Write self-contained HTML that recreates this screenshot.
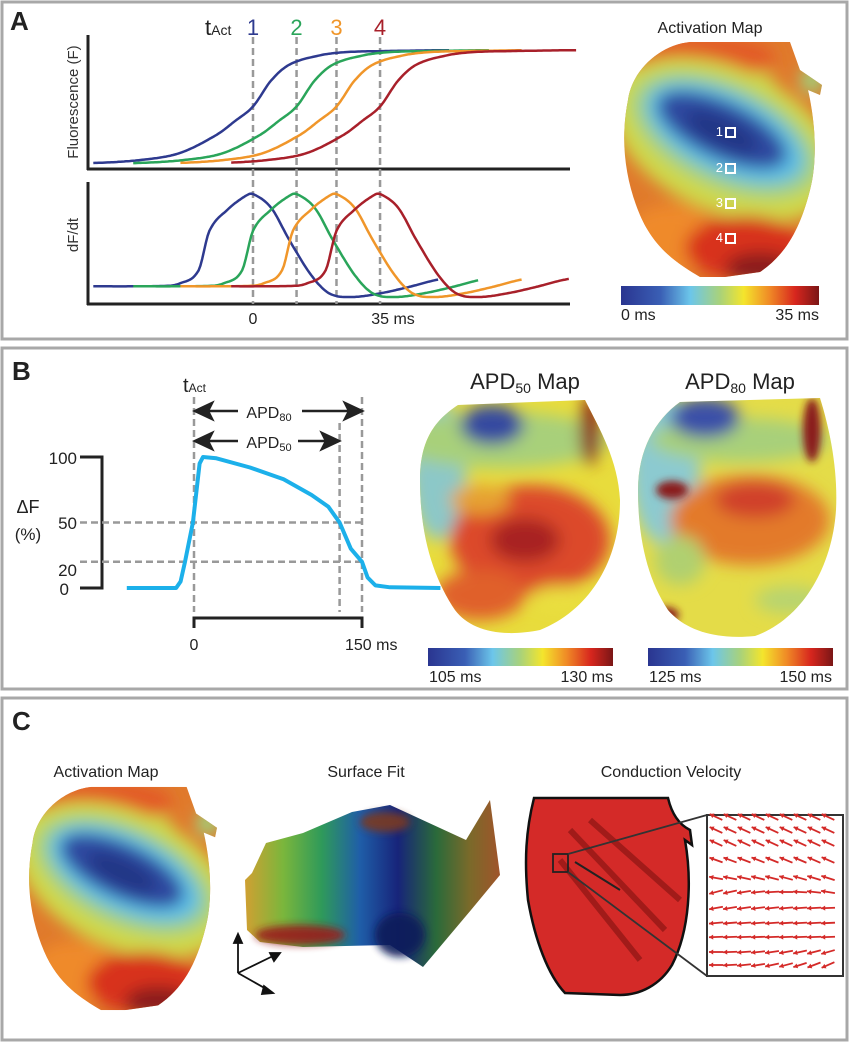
<!DOCTYPE html>
<html><head><meta charset="utf-8">
<style>
html,body{margin:0;padding:0;background:#fff;}
svg{display:block;font-family:"Liberation Sans",Arial,sans-serif;}
</style></head>
<body>
<svg id="fig" width="850" height="1043" viewBox="0 0 850 1043" xmlns="http://www.w3.org/2000/svg">
<defs>
<filter id="bl" x="-50%" y="-50%" width="200%" height="200%"><feGaussianBlur stdDeviation="8"/></filter>
<filter id="bl2" x="-50%" y="-50%" width="200%" height="200%"><feGaussianBlur stdDeviation="4"/></filter>
<linearGradient id="jet" x1="0" x2="1" y1="0" y2="0">
<stop offset="0" stop-color="#2a3590"/><stop offset="0.2" stop-color="#3a5fb5"/><stop offset="0.35" stop-color="#6cc6ea"/>
<stop offset="0.5" stop-color="#a9d27a"/><stop offset="0.62" stop-color="#f4e52c"/><stop offset="0.75" stop-color="#f08a26"/>
<stop offset="0.88" stop-color="#d7261e"/><stop offset="1" stop-color="#7a1616"/></linearGradient>
<linearGradient id="surf" x1="0" x2="1" y1="0" y2="0">
<stop offset="0" stop-color="#d0a032"/><stop offset="0.15" stop-color="#7ab63c"/><stop offset="0.3" stop-color="#2f9a5a"/>
<stop offset="0.45" stop-color="#1f5ea8"/><stop offset="0.6" stop-color="#17247a"/><stop offset="0.75" stop-color="#2a6a3a"/>
<stop offset="0.88" stop-color="#7a6a2a"/><stop offset="1" stop-color="#a0542a"/></linearGradient>
<clipPath id="heartA"><path d="M628,100 C632,70 660,45 690,42 L790,42 L800,70 L822,85 L820,95 L808,90 C815,120 818,160 810,190 C800,230 785,255 760,272 L725,277 L700,277 C680,265 655,250 640,215 C625,180 620,140 628,100 Z"/></clipPath>
<clipPath id="apd50clip"><path d="M458,405 L585,400 C600,430 618,460 620,500 C620,560 590,610 540,630 C500,638 470,630 455,610 C435,580 420,540 420,480 C420,440 435,420 458,405 Z"/></clipPath>
<clipPath id="apd80clip"><path d="M680,402 L820,398 C830,430 838,470 836,510 C832,570 800,620 755,636 C715,640 685,630 668,610 C648,580 638,540 638,490 C638,450 655,420 680,402 Z"/></clipPath>
</defs>

<rect x="2" y="2" width="845" height="337" fill="none" stroke="#a8a8a8" stroke-width="3"/>
<rect x="2" y="348" width="845" height="341" fill="none" stroke="#a8a8a8" stroke-width="3"/>
<rect x="2" y="698" width="845" height="342" fill="none" stroke="#a8a8a8" stroke-width="3"/>
<text x="10" y="30" font-size="26" font-weight="bold" fill="#222">A</text>
<text x="12" y="380" font-size="26" font-weight="bold" fill="#222">B</text>
<text x="12" y="730" font-size="26" font-weight="bold" fill="#222">C</text>

<g id="panelA">
<line x1="88" y1="35" x2="88" y2="170" stroke="#222" stroke-width="3"/>
<line x1="87" y1="169" x2="570" y2="169" stroke="#222" stroke-width="3"/>
<line x1="88" y1="182" x2="88" y2="305" stroke="#222" stroke-width="3"/>
<line x1="87" y1="304" x2="570" y2="304" stroke="#222" stroke-width="3"/>
<text transform="translate(78,102) rotate(-90)" text-anchor="middle" font-size="15" fill="#333">Fluorescence (F)</text>
<text transform="translate(78,235) rotate(-90)" text-anchor="middle" font-size="15" fill="#333">dF/dt</text>
<text x="205" y="35" font-size="22" fill="#222">t<tspan font-size="14">Act</tspan></text>
<g id="dashA"></g>
<g id="curvesA"></g>
<text x="253" y="324" text-anchor="middle" font-size="16" fill="#222">0</text>
<text x="393" y="324" text-anchor="middle" font-size="16" fill="#222">35 ms</text>
</g>

<text x="710" y="33" text-anchor="middle" font-size="16" fill="#222">Activation Map</text>
<g clip-path="url(#heartA)">
<g id="actA">
<rect x="615" y="35" width="215" height="250" fill="#e07a2c"/>
<g filter="url(#bl)">
<ellipse cx="690" cy="95" rx="90" ry="40" fill="#c8d44c"/>
<ellipse cx="700" cy="58" rx="75" ry="22" fill="#e35a28"/>
<ellipse cx="725" cy="140" rx="120" ry="72" transform="rotate(25 725 140)" fill="#cfd84a"/>
<ellipse cx="725" cy="135" rx="100" ry="52" transform="rotate(25 725 135)" fill="#9fd08a"/>
<ellipse cx="725" cy="133" rx="85" ry="40" transform="rotate(25 725 133)" fill="#5cbde6"/>
<ellipse cx="722" cy="130" rx="70" ry="28" transform="rotate(25 722 130)" fill="#2f4aa0"/>
<ellipse cx="722" cy="132" rx="40" ry="14" transform="rotate(25 722 132)" fill="#233485"/>
<ellipse cx="670" cy="240" rx="45" ry="35" fill="#ef8a2a"/>
<ellipse cx="745" cy="248" rx="60" ry="32" fill="#d8301f"/>
<ellipse cx="760" cy="268" rx="35" ry="16" fill="#8b1c1c"/>
<ellipse cx="812" cy="80" rx="12" ry="14" fill="#a0d07a"/>
</g></g></g>
<g id="squares"></g>
<rect x="621" y="286" width="198" height="19" fill="url(#jet)"/>
<text x="621" y="320" font-size="16" fill="#222">0 ms</text>
<text x="819" y="320" text-anchor="end" font-size="16" fill="#222">35 ms</text>

<g>
<polyline points="80,457 102,457 102,588 80,588" fill="none" stroke="#222" stroke-width="3"/>
<text x="77" y="464" text-anchor="end" font-size="17" fill="#222">100</text>
<text x="77" y="529" text-anchor="end" font-size="17" fill="#222">50</text>
<text x="77" y="576" text-anchor="end" font-size="17" fill="#222">20</text>
<text x="69" y="595" text-anchor="end" font-size="17" fill="#222">0</text>
<text x="28" y="513" text-anchor="middle" font-size="18" fill="#222">ΔF</text>
<text x="28" y="540" text-anchor="middle" font-size="17" fill="#222">(%)</text>
<g id="dashB" stroke="#999" stroke-width="2.5" stroke-dasharray="7,4" fill="none"></g>
<path id="apTrace" fill="none" stroke="#1cb0ea" stroke-width="4" stroke-linejoin="round"/>
<g stroke="#222" stroke-width="2.5" fill="#222">
<line x1="204" y1="411" x2="238" y2="411"/><line x1="302" y1="411" x2="352" y2="411"/>
<polygon points="195,411 212,403 208,411 212,419"/><polygon points="362,411 345,403 349,411 345,419"/>
<line x1="204" y1="441" x2="238" y2="441"/><line x1="298" y1="441" x2="330" y2="441"/>
<polygon points="195,441 212,433 208,441 212,449"/><polygon points="339,441 322,433 326,441 322,449"/>
</g>
<text x="269" y="418" text-anchor="middle" font-size="16" fill="#222">APD<tspan font-size="11" dy="3">80</tspan></text>
<text x="269" y="448" text-anchor="middle" font-size="16" fill="#222">APD<tspan font-size="11" dy="3">50</tspan></text>
<text x="183" y="392" font-size="20" fill="#222">t<tspan font-size="12">Act</tspan></text>
<polyline points="194,628 194,618 362,618 362,628" fill="none" stroke="#222" stroke-width="3"/>
<text x="194" y="650" text-anchor="middle" font-size="16" fill="#222">0</text>
<text x="345" y="650" font-size="16" fill="#222">150 ms</text>
</g>

<text x="525" y="389" text-anchor="middle" font-size="22" fill="#222">APD<tspan font-size="14" dy="4">50</tspan><tspan dy="-4"> Map</tspan></text>
<text x="740" y="389" text-anchor="middle" font-size="22" fill="#222">APD<tspan font-size="14" dy="4">80</tspan><tspan dy="-4"> Map</tspan></text>
<g clip-path="url(#apd50clip)">
<rect x="415" y="395" width="210" height="245" fill="#e8dc3c"/>
<g filter="url(#bl)">
<ellipse cx="438" cy="470" rx="28" ry="70" fill="#8cc8c8"/>
<ellipse cx="500" cy="440" rx="110" ry="28" fill="#a8d07a"/>
<ellipse cx="492" cy="425" rx="32" ry="20" fill="#3448a0"/>
<ellipse cx="530" cy="540" rx="80" ry="55" fill="#dc4a2a"/>
<ellipse cx="525" cy="540" rx="35" ry="22" fill="#a82020"/>
<ellipse cx="480" cy="595" rx="45" ry="25" fill="#e0602a"/>
<ellipse cx="590" cy="430" rx="10" ry="35" fill="#8a1818"/>
<ellipse cx="560" cy="598" rx="30" ry="12" fill="#eadf40"/>
<ellipse cx="480" cy="500" rx="30" ry="15" fill="#e6a030"/>
</g></g>
<g clip-path="url(#apd80clip)">
<rect x="635" y="395" width="205" height="245" fill="#e4dc48"/>
<g filter="url(#bl)">
<ellipse cx="665" cy="470" rx="35" ry="75" fill="#8ccad0"/>
<ellipse cx="740" cy="440" rx="90" ry="22" fill="#a8d07a"/>
<ellipse cx="705" cy="418" rx="35" ry="20" fill="#3a50a8"/>
<ellipse cx="750" cy="520" rx="80" ry="45" fill="#e37a2c"/>
<ellipse cx="755" cy="500" rx="40" ry="18" fill="#d0402a"/>
<ellipse cx="790" cy="600" rx="35" ry="14" fill="#b8d470"/>
<ellipse cx="680" cy="560" rx="25" ry="25" fill="#b0d070"/>
</g>
<g filter="url(#bl2)">
<ellipse cx="672" cy="490" rx="16" ry="9" fill="#8a1a1a"/>
<ellipse cx="812" cy="430" rx="9" ry="32" fill="#8a1a1a"/>
<ellipse cx="665" cy="615" rx="14" ry="8" fill="#8a1a1a"/>
</g></g>
<rect x="428" y="648" width="185" height="18" fill="url(#jet)"/>
<rect x="648" y="648" width="185" height="18" fill="url(#jet)"/>
<text x="429" y="682" font-size="16" fill="#222">105 ms</text>
<text x="613" y="682" text-anchor="end" font-size="16" fill="#222">130 ms</text>
<text x="649" y="682" font-size="16" fill="#222">125 ms</text>
<text x="832" y="682" text-anchor="end" font-size="16" fill="#222">150 ms</text>

<text x="106" y="777" text-anchor="middle" font-size="16" fill="#222">Activation Map</text>
<text x="366" y="777" text-anchor="middle" font-size="16" fill="#222">Surface Fit</text>
<text x="671" y="777" text-anchor="middle" font-size="16" fill="#222">Conduction Velocity</text>
<g transform="translate(27,785) scale(0.95,0.95) translate(-622,-40)" clip-path="url(#heartA)">
<use href="#actA"/>
</g>
<g>
<path d="M252,873 L266,843 L303,833 L352,812 L390,805 L466,840 L490,800 L500,875 L471,910 L423,967 L390,945 L303,947 L260,942 L247,930 L245,880 Z" fill="url(#surf)"/>
<g filter="url(#bl2)" opacity="0.9">
<ellipse cx="300" cy="935" rx="45" ry="10" fill="#9a1c1c"/>
<ellipse cx="385" cy="822" rx="25" ry="10" fill="#7a3a20"/>
<ellipse cx="400" cy="935" rx="25" ry="22" fill="#101c5a"/>
</g>
<g stroke="#111" stroke-width="1.8" fill="#111">
<line x1="238" y1="973" x2="238" y2="938"/><polygon points="238,934 234,943 242,943"/>
<line x1="238" y1="973" x2="275" y2="955"/><polygon points="280,953 270,953 274,961"/>
<line x1="238" y1="973" x2="268" y2="990"/><polygon points="273,993 264,986 262,994"/>
</g></g>
<g>
<path d="M534,798 L668,798 C672,815 680,825 690,830 L692,845 L685,840 C692,880 690,930 672,965 C660,985 640,995 620,995 L565,993 C548,975 535,940 528,900 C524,860 526,830 534,798 Z" fill="#d42a28" stroke="#111" stroke-width="2.5"/>
<g opacity="0.35" stroke="#400" stroke-width="6" fill="none">
<line x1="570" y1="830" x2="665" y2="930"/><line x1="590" y1="820" x2="680" y2="900"/><line x1="560" y1="860" x2="640" y2="960"/>
</g>
<line x1="575" y1="862" x2="620" y2="890" stroke="#222" stroke-width="2"/>
<rect x="553" y="854" width="15" height="18" fill="none" stroke="#222" stroke-width="1.8"/>
<line x1="568" y1="854" x2="707" y2="815" stroke="#333" stroke-width="1.8"/>
<line x1="568" y1="872" x2="707" y2="976" stroke="#333" stroke-width="1.8"/>
<rect x="707" y="815" width="136" height="161" fill="#fff" stroke="#333" stroke-width="2"/>
<g id="cvArrows"></g>
</g>
</svg>
<script>
// ---- Panel A data ----
var tAct = [0, 12, 23, 35];
var seriesColors = ['#2e3a8f', '#2aa55a', '#f0962a', '#a8202a'];
var siteLabels = ['1', '2', '3', '4'];
var startMs = [-44, -33, -20, -6];
var endF = [54, 65, 74, 89];
var endD = [51, 62, 74, 87];
var fOffsets = [-60, -44, -30, -20, -10, -5, 0, 5, 10, 18, 25, 35, 60, 90];
var fValues  = [0, 0, 0.03, 0.09, 0.25, 0.37, 0.5, 0.73, 0.87, 0.95, 0.98, 0.99, 1, 1];
var dOffsets = [-60, -25, -20, -15, -12, -7, -2, 0, 5, 10, 16, 21, 27, 35, 43, 51, 60];
var dValues  = [0, 0, 0.03, 0.17, 0.6, 0.83, 0.98, 1, 0.85, 0.5, 0.12, -0.08, -0.12, -0.08, -0.01, 0.07, 0.12];

function xA(t){ return 253 + t * 3.63; }
function yF(v){ return 163 - v * 113; }
function yD(v){ return 286 - v * 92; }
// Catmull-Rom (smooth) interpolation through read points
function interp(xs, ys, x){
  var n = xs.length;
  if (x <= xs[0]) return ys[0];
  if (x >= xs[n-1]) return ys[n-1];
  var i = 1; while (x > xs[i]) i++;
  var x1 = xs[i-1], x2 = xs[i], y1 = ys[i-1], y2 = ys[i];
  var y0 = i >= 2 ? ys[i-2] : y1, y3 = i + 1 < n ? ys[i+1] : y2;
  var x0 = i >= 2 ? xs[i-2] : x1 - 1, x3 = i + 1 < n ? xs[i+1] : x2 + 1;
  var h = x2 - x1, s = (x - x1) / h;
  var m1 = (y2 - y0) / (x2 - x0) * h, m2 = (y3 - y1) / (x3 - x1) * h;
  var s2 = s * s, s3 = s2 * s;
  return (2*s3 - 3*s2 + 1) * y1 + (s3 - 2*s2 + s) * m1 + (-2*s3 + 3*s2) * y2 + (s3 - s2) * m2;
}
var NS = 'http://www.w3.org/2000/svg';
function mk(tag, attrs, parent){ var e = document.createElementNS(NS, tag); for (var k in attrs) e.setAttribute(k, attrs[k]); parent.appendChild(e); return e; }

var dashA = document.getElementById('dashA');
var curvesA = document.getElementById('curvesA');
var tl = document.getElementById('panelA');
for (var i = 0; i < tAct.length; i++) {
  var dl = mk('line', {x1: xA(tAct[i]), y1: 37, x2: xA(tAct[i]), y2: 304, stroke: '#999', 'stroke-width': 2.5, 'stroke-dasharray': '7,4'}, dashA);
  
  
  var lab = mk('text', {x: xA(tAct[i]), y: 35, 'text-anchor': 'middle', 'font-size': 22, fill: seriesColors[i]}, tl);
  lab.textContent = siteLabels[i];
  
  
}
for (var i = 0; i < tAct.length; i++) {
  var pf = [], pd = [];
  for (var t = startMs[i]; t <= endF[i]; t += 0.5) pf.push(xA(t).toFixed(1) + ',' + yF(interp(fOffsets, fValues, t - tAct[i])).toFixed(1));
  for (var t = startMs[i]; t <= endD[i]; t += 0.5) pd.push(xA(t).toFixed(1) + ',' + yD(interp(dOffsets, dValues, t - tAct[i])).toFixed(1));
  var l1 = mk('polyline', {points: pf.join(' '), fill: 'none', stroke: seriesColors[i], 'stroke-width': 2.5, 'stroke-linejoin': 'round'}, curvesA);
  
  
  var l2 = mk('polyline', {points: pd.join(' '), fill: 'none', stroke: seriesColors[i], 'stroke-width': 2.5, 'stroke-linejoin': 'round'}, curvesA);
  
  
}
var sq = document.getElementById('squares');
var siteY = [132, 168, 203, 238];
for (var i = 0; i < siteY.length; i++) {
  var r = mk('rect', {x: 726, y: siteY[i] - 4, width: 9, height: 9, fill: 'none', stroke: '#fff', 'stroke-width': 2}, sq);
  
  
  var tx = mk('text', {x: 723, y: siteY[i] + 4, 'text-anchor': 'end', 'font-size': 13, fill: '#fff'}, sq);
  tx.textContent = siteLabels[i];
  
  
}

// ---- Panel B data ----
var apTimes = [-60, -16, -12, -8, -1, 5, 8, 20, 50, 80, 105, 120, 130, 140, 150, 155, 162, 175, 220];
var apValues = [0, 0, 5, 20, 50, 95, 100, 99, 92, 83, 71, 62, 50, 30, 20, 8, 2, 0.5, 0];
var apdLevels = [50, 20];
var apdTimes = [0, 130, 150];
function xB(t){ return 194 + t * 1.12; }
function yB(v){ return 588 - v * 1.31; }
var d = '';
for (var i = 0; i < apTimes.length; i++) d += (i ? ' L' : 'M') + xB(apTimes[i]).toFixed(1) + ',' + yB(apValues[i]).toFixed(1);
document.getElementById('apTrace').setAttribute('d', d);
var dashB = document.getElementById('dashB');
for (var i = 0; i < apdLevels.length; i++) {
  var h = mk('line', {x1: 80, y1: yB(apdLevels[i]), x2: xB(150), y2: yB(apdLevels[i])}, dashB);
  
  
}
var topY = [397, 423, 397];
for (var i = 0; i < apdTimes.length; i++) {
  var v = mk('line', {x1: xB(apdTimes[i]), y1: topY[i], x2: xB(apdTimes[i]), y2: 612}, dashB);
  
  
}

// ---- CV inset arrows ----
var rowY = [817, 830, 843, 860, 878, 892, 908, 923, 937, 952, 965];
var rowAngle = [205, 205, 205, 200, 190, 165, 170, 175, 178, 180, 180];
var rowSkew = [0, 0, 0, 0.5, 1, 3, 1, 0.3, 0, -2, -3];
var colX = [716, 730, 744, 758, 772, 786, 800, 814, 828];
var cv = document.getElementById('cvArrows');
for (var r = 0; r < rowY.length; r++) for (var c = 0; c < colX.length; c++) {
  var a = (rowAngle[r] + c * rowSkew[r]) * Math.PI / 180;
  var dx = Math.cos(a) * 7, dy = Math.sin(a) * 7;
  var x0 = colX[c] - dx, y0 = rowY[r] - dy, x1 = colX[c] + dx, y1 = rowY[r] + dy;
  var ln = mk('line', {x1: x0, y1: y0, x2: x1, y2: y1, stroke: '#d42a28', 'stroke-width': 1.8}, cv);
  
  
  var px = -Math.sin(a), py = Math.cos(a);
  var hd = mk('polygon', {points: x1 + ',' + y1 + ' ' + (x1 - dx*0.6 + px*2.5) + ',' + (y1 - dy*0.6 + py*2.5) + ' ' + (x1 - dx*0.6 - px*2.5) + ',' + (y1 - dy*0.6 - py*2.5), fill: '#d42a28'}, cv);
  
  
}
</script>
</body></html>
